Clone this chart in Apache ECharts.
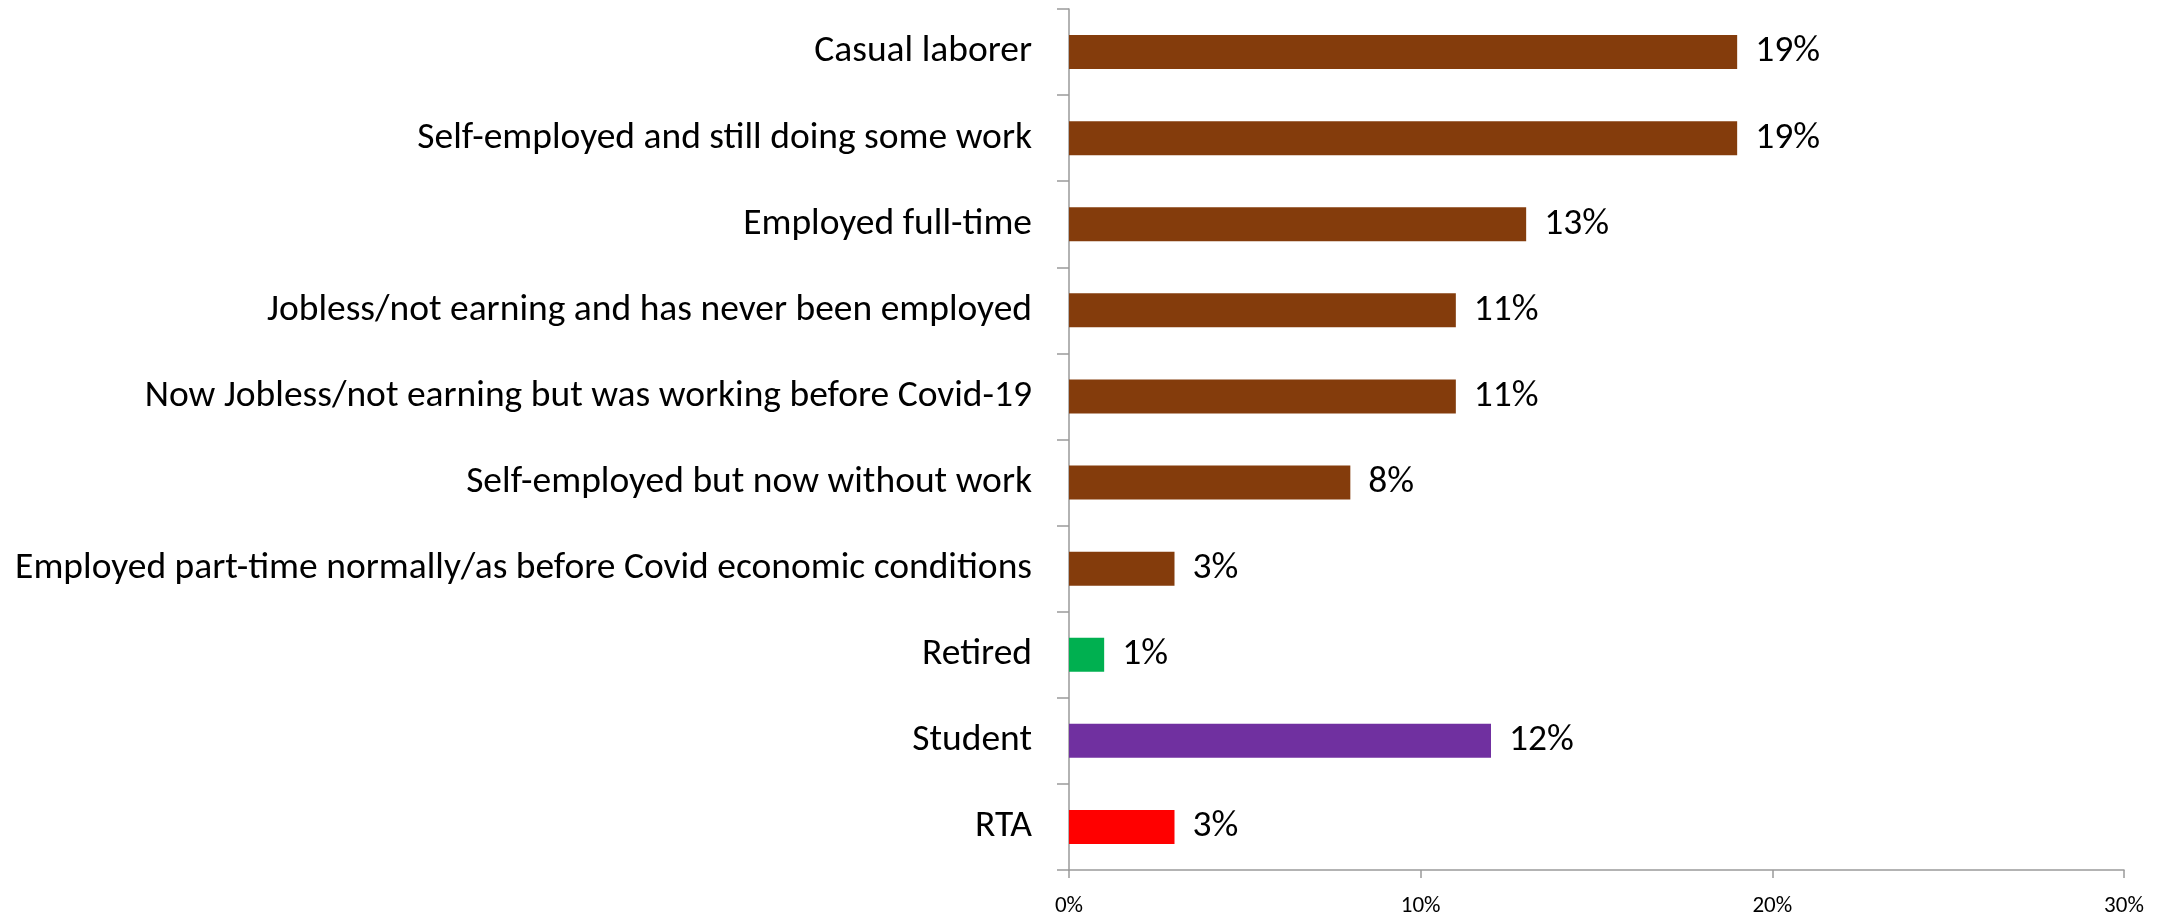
<!DOCTYPE html>
<html>
<head>
<meta charset="utf-8">
<script src="https://cdn.jsdelivr.net/npm/echarts@6/dist/echarts.min.js"></script>
<style>
html,body{margin:0;padding:0;background:#fff;}
#chart{width:2179px;height:918px;}
</style>
</head>
<body>
<div id="chart"></div>
<script>
const categories = [
  "Casual laborer",
  "Self-employed and still doing some work",
  "Employed full-time",
  "Jobless/not earning and has never been employed",
  "Now Jobless/not earning but was working before Covid-19",
  "Self-employed but now without work",
  "Employed part-time normally/as before Covid economic conditions",
  "Retired",
  "Student",
  "RTA"
];
const values = [19, 19, 13, 11, 11, 8, 3, 1, 12, 3];
const barColors = ["#843C0C","#843C0C","#843C0C","#843C0C","#843C0C","#843C0C","#843C0C","#00B050","#7030A0","#FF0000"];
const xTicks = [0, 10, 20, 30];

const FONT = "Carlito, 'Noto Sans', sans-serif";
const chart = echarts.init(document.getElementById('chart'), null, {renderer: 'canvas'});
chart.setOption({
  animation: false,
  backgroundColor: '#ffffff',
  grid: {left: 1069, right: 55, top: 9, bottom: 45, containLabel: false},
  xAxis: {
    type: 'value',
    min: xTicks[0], max: xTicks[xTicks.length - 1], interval: 10,
    axisLine: {show: true, lineStyle: {color: '#9a9a9a', width: 1.5}},
    axisTick: {show: true, length: 8, lineStyle: {color: '#9a9a9a', width: 1.5}},
    splitLine: {show: false},
    axisLabel: {formatter: v => v + '%', fontFamily: FONT, fontSize: 23, color: '#000', margin: 25}
  },
  yAxis: {
    type: 'category',
    data: categories,
    inverse: true,
    axisLine: {show: true, lineStyle: {color: '#9a9a9a', width: 1.5}},
    axisTick: {show: true, length: 12, alignWithLabel: false, lineStyle: {color: '#9a9a9a', width: 1.5}},
    axisLabel: {fontFamily: FONT, fontSize: 37.5, color: '#000', margin: 37, interval: 0, padding: [6, 0, 0, 0]}
  },
  series: [{
    type: 'bar',
    barWidth: 34,
    data: values.map((v, i) => ({value: v, itemStyle: {color: barColors[i]}})),
    label: {show: true, position: 'right', distance: 18, formatter: p => p.value + '%', fontFamily: FONT, fontSize: 37.5, color: '#000', padding: [6, 0, 0, 0]}
  }]
});
</script>
</body>
</html>
